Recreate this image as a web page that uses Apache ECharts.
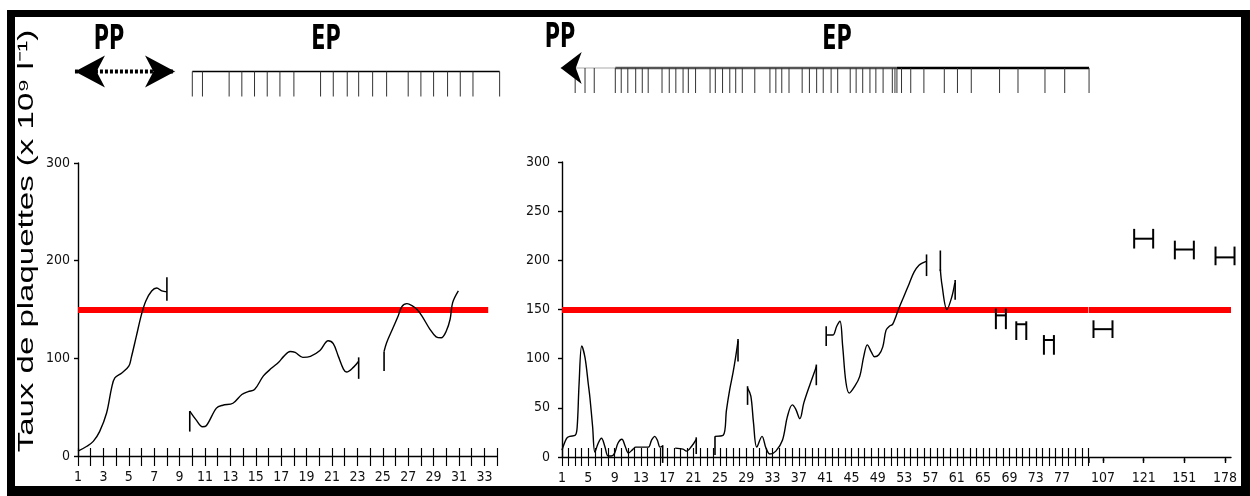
<!DOCTYPE html>
<html><head><meta charset="utf-8">
<script src="https://cdn.jsdelivr.net/npm/echarts@6/dist/echarts.min.js"></script>
<style>html,body{margin:0;padding:0;background:#fff}#c{width:1250px;height:496px}</style>
</head><body><div id="c"></div>
<script>
// ---------------- DATA ----------------
const threshold = 150;
const yTitle = 'Taux de plaquettes (x 10⁹ l⁻¹)';
const phaseLabels = ['PP', 'EP'];

// Left panel (days 1..34)
const leftSeg1 = [[1,5],[1.7,10],[2.2,15],[2.7,25],[3.25,44],[3.65,70],[3.9,80],[4.45,85],[5,92],[5.2,101],[5.6,123],[6,145],[6.35,159],[6.8,169],[7.2,172],[7.6,169],[8,168]];
const leftSeg2 = [[9.8,46],[10.3,37],[10.8,30],[11.1,31],[11.9,49],[12.4,52],[13.2,54],[13.9,63],[14.4,66],[14.9,68],[15.6,82],[16.25,90],[16.8,96],[17.2,102],[17.7,107],[18.1,106],[18.7,101],[19.3,102],[20.05,108],[20.7,118],[21.1,115],[21.5,102],[21.9,89],[22.15,86],[22.7,91],[23.1,97]];
const leftSeg3 = [[25.1,107],[25.3,116],[25.8,131],[26.2,143],[26.5,153],[26.9,156],[27.3,154],[27.7,150],[28.1,143],[28.7,130],[29.2,122],[29.6,121],[30,128],[30.3,140],[30.5,157],[30.95,169]];
const leftRanges = [[8,159,183],[9.8,25,46],[23.1,79,101],[25.1,87,107]]; // [day, low, high]
const leftThresholdSpan = [1, 33.3];
const ppLeft = [0.76, 8.64];
const epLeftLine = [10, 34.2];
const epLeftTicks = [10,10.8,12.9,13.9,14.9,15.9,16.9,18,20.1,21.1,22.2,23.1,24.2,25.3,27,28,29,30.1,31.1,32.1,34.2];

// Right panel (days 1..81, then later days)
const rightSeg1 = [[1,7],[1.7,19],[2.2,21],[3,22],[3.3,30],[3.6,75],[4,113],[4.5,101],[5,74],[5.25,60],[5.65,31],[6,5],[6.5,14],[7,19],[7.5,11],[8,1],[8.5,1],[9,4],[9.5,14],[10.1,18],[10.6,11],[11.1,4],[11.8,8],[12.2,10],[14.1,10],[14.6,17],[15.1,21],[15.5,17],[15.9,10],[16.3,11]];
const rightSeg2 = [[18.2,9],[19.4,8],[19.9,6],[20.7,11],[21.4,18]];
const rightSeg3 = [[24.25,21],[25.5,22],[26,48],[26.5,69],[27,86],[27.4,102],[27.75,118]];
const rightSeg4 = [[29.2,70],[29.7,62],[30.1,35],[30.6,10],[31.4,21],[32,9],[32.6,3],[33.5,6],[34.5,17],[35.25,41],[36,53],[36.5,49],[37.15,39],[37.75,55],[38.75,75],[39.5,89],[39.65,92]];
const rightSeg5 = [[41.15,124],[42.15,124],[42.75,133],[43.25,138],[43.65,113],[44.15,76],[44.65,65],[45.5,72],[46.25,82],[46.85,102],[47.4,114],[48,107],[48.5,102],[49.15,104],[49.75,112],[50.25,129],[50.75,133],[51.25,135],[51.75,143],[52.25,152],[53,164],[53.75,176],[54.5,188],[55.25,195],[56,198],[56.4,199]];
const rightSeg6 = [[58.5,191],[58.75,175],[59.5,150],[60.25,163],[60.7,177]];
const rightRanges = [[16.3,-6,12],[21.4,3,20],[24.25,2,21],[27.75,97,120],[29.2,53,72],[39.65,73,94],[41.15,113,133],[56.4,184,206],[58.5,189,210],[60.75,160,180]];
const hMarksMain = [[67.7,144,130,151],[70.8,135,119,138],[75,119,104,124]]; // [day, value, low, high]
const laterLabels = ['107','121','151','178'];
const hMarksLater = [[0,130,121,139],[1,222,212,232],[2,211,201,220],[3,203,195,214]]; // [label index, value, low, high]
const ppRightTip = 0.8;
const epRightLine = [0.8, 9.1, 51.9, 81.1]; // breakpoints of the top line
const epRightTicks = [3,4.5,5.9,9.1,10,11,12.2,13.2,14.1,16.2,17.3,18.3,19.4,20.2,21.3,23.5,24.3,25.4,26.5,27.4,28.4,30.3,32.6,33.5,34.4,35.5,37.5,38.6,39.7,40.7,41.9,42.9,44.8,45.7,46.7,47.8,48.7,49.8,51.2,51.6,51.9,52.6,54,56,59.1,61.1,63.2,67.5,70.3,74.4,77.4,81.1];

// ---------------- CHART ----------------
const FONT = "'Liberation Sans Narrow','DejaVu Sans Condensed','Liberation Sans',sans-serif";
const chart = echarts.init(document.getElementById('c'), null, {renderer: 'canvas'});

const lblStyle = {fontFamily: FONT, fontSize: 14, color: '#111'};
const axLine = {show: true, lineStyle: {color: '#000', width: 1.4}};

function lineSeries(data, xi, yi, extra) {
  return Object.assign({
    type: 'line', data: data, xAxisIndex: xi, yAxisIndex: yi, smooth: 0.35,
    symbol: 'none', lineStyle: {color: '#000', width: 1.4}, silent: true, z: 3
  }, extra || {});
}
function rangeSeries(data, xi, yi) {
  return {
    type: 'custom', xAxisIndex: xi, yAxisIndex: yi, data: data, clip: false, silent: true, z: 4,
    encode: {x: 0, y: [1, 2]},
    renderItem: function (p, api) {
      const a = api.coord([api.value(0), api.value(1)]);
      const b = api.coord([api.value(0), api.value(2)]);
      return {type: 'line', shape: {x1: a[0], y1: a[1], x2: b[0], y2: b[1]}, style: {stroke: '#000', lineWidth: 1.6}};
    }
  };
}
function hSeries(data, xi, yi, hw) {
  return {
    type: 'custom', xAxisIndex: xi, yAxisIndex: yi, data: data, clip: false, silent: true, z: 4,
    encode: {x: 0, y: [1, 2, 3]},
    renderItem: function (p, api) {
      const c = api.coord([api.value(0), api.value(1)]);
      const lo = api.coord([api.value(0), api.value(2)]);
      const hi = api.coord([api.value(0), api.value(3)]);
      const st = {stroke: '#000', lineWidth: 2};
      return {type: 'group', children: [
        {type: 'line', shape: {x1: c[0]-hw, y1: lo[1], x2: c[0]-hw, y2: hi[1]}, style: st},
        {type: 'line', shape: {x1: c[0]+hw, y1: lo[1], x2: c[0]+hw, y2: hi[1]}, style: st},
        {type: 'line', shape: {x1: c[0]-hw, y1: c[1], x2: c[0]+hw, y2: c[1]}, style: st}
      ]};
    }
  };
}
function tickSeries(days, xi, yi) {
  return {
    type: 'custom', xAxisIndex: xi, yAxisIndex: yi, data: days.map(d => [d, 1]), clip: false, silent: true,
    encode: {x: 0, y: 1},
    renderItem: function (p, api) {
      const a = api.coord([api.value(0), 1]);
      const b = api.coord([api.value(0), 0]);
      return {type: 'line', shape: {x1: a[0], y1: a[1], x2: b[0], y2: b[1]}, style: {stroke: '#333', lineWidth: 1}};
    }
  };
}
function segLineSeries(points, styles, xi, yi) {
  const data = [];
  for (let i = 0; i < points.length - 1; i++) data.push([points[i], points[i+1], i]);
  return {
    type: 'custom', xAxisIndex: xi, yAxisIndex: yi, data: data, clip: false, silent: true,
    encode: {x: [0, 1]},
    renderItem: function (p, api) {
      const a = api.coord([api.value(0), 1]);
      const b = api.coord([api.value(1), 1]);
      const s = styles[api.value(2)];
      return {type: 'line', shape: {x1: a[0], y1: a[1], x2: b[0], y2: b[1]}, style: {stroke: s.c, lineWidth: s.w, lineDash: s.dash || null}};
    }
  };
}
function arrowSeries(tips, xi, yi, L, H) {
  return {
    type: 'custom', xAxisIndex: xi, yAxisIndex: yi, data: tips, clip: false, silent: true, z: 5,
    encode: {x: 0},
    renderItem: function (p, api) {
      const t = api.coord([api.value(0), 1]);
      const dir = api.value(1); // -1 points left, +1 points right
      const s = -dir;
      return {type: 'polygon', shape: {points: [
        [t[0], t[1]], [t[0] + s*L, t[1] - H], [t[0] + s*L*0.72, t[1]], [t[0] + s*L, t[1] + H]
      ]}, style: {fill: '#000'}};
    }
  };
}
function textEl(txt, x, y) {
  return {type: 'text', x: x, y: y, scaleX: 0.7, style: {text: txt, fontFamily: FONT, fontWeight: 'bold', fontSize: 33, fill: '#000', textAlign: 'center', textVerticalAlign: 'middle'}};
}
const innerTickAxis = (g, min, max, len, custom) => ({
  gridIndex: g, type: 'value', position: 'bottom', min: min, max: max, interval: custom ? undefined : 1,
  offset: custom ? 6 : 0, axisLine: {show: false},
  axisTick: Object.assign({inside: true, length: len, lineStyle: {color: '#000', width: custom ? 1.4 : 1.15}}, custom ? {customValues: custom} : {}),
  splitLine: {show: false}, axisLabel: {show: false}
});

const option = {
  animation: false,
  backgroundColor: '#fff',
  grid: [
    {left: 78, top: 163, width: 419.1, height: 293},      // 0 left main
    {left: 562, top: 162, width: 526.4, height: 295},     // 1 right main
    {left: 1089, top: 162, width: 142, height: 295},      // 2 right later days
    {left: 78, top: 71.5, width: 419.1, height: 25},      // 3 top-left timeline
    {left: 562, top: 68, width: 526.4, height: 25}        // 4 top-right timeline
  ],
  xAxis: [
    {gridIndex: 0, type: 'value', position: 'bottom', min: 1, max: 34, interval: 1, axisLine: axLine,
     axisTick: {length: 10, lineStyle: {color: '#000', width: 1.15}}, splitLine: {show: false},
     axisLabel: Object.assign({margin: 14, formatter: v => (v % 2 === 1 && v <= 33) ? String(v) : ''}, lblStyle)},
    innerTickAxis(0, 1, 34, 8),
    {gridIndex: 1, type: 'value', position: 'bottom', min: 1, max: 81, interval: 1, axisLine: axLine,
     axisTick: {length: 9, lineStyle: {color: '#000', width: 1.1}}, splitLine: {show: false},
     axisLabel: Object.assign({margin: 14, formatter: v => ((v - 1) % 4 === 0 && v <= 77) ? String(v) : ''}, lblStyle)},
    innerTickAxis(1, 1, 81, 9),
    {gridIndex: 2, type: 'value', position: 'bottom', min: -0.344, max: 3.147, offset: 6, axisLine: axLine,
     axisTick: {length: 4, customValues: [0,1,2,3], lineStyle: {color: '#000', width: 1.4}}, splitLine: {show: false},
     axisLabel: Object.assign({margin: 8, customValues: [0,1,2,3], formatter: v => laterLabels[Math.round(v)] || ''}, lblStyle)},
    {gridIndex: 3, type: 'value', min: 1, max: 34, show: false},
    {gridIndex: 4, type: 'value', min: 1, max: 81, show: false},
    innerTickAxis(2, -0.344, 3.147, 4, [0,1,2,3])
  ],
  yAxis: [
    {gridIndex: 0, type: 'value', min: 0, max: 300, interval: 100, axisLine: axLine,
     axisTick: {show: true, length: 4, lineStyle: {color: '#000', width: 1.4}}, splitLine: {show: false},
     axisLabel: Object.assign({margin: 8}, lblStyle)},
    {gridIndex: 1, type: 'value', min: 0, max: 300, interval: 50, axisLine: axLine,
     axisTick: {show: true, length: 4, lineStyle: {color: '#000', width: 1.4}}, splitLine: {show: false},
     axisLabel: Object.assign({margin: 12}, lblStyle)},
    {gridIndex: 2, type: 'value', min: 0, max: 300, show: false},
    {gridIndex: 3, type: 'value', min: 0, max: 1, show: false},
    {gridIndex: 4, type: 'value', min: 0, max: 1, show: false}
  ],
  series: [
    lineSeries(leftSeg1, 0, 0, {markLine: {symbol: 'none', silent: true, label: {show: false}, z: 2,
      lineStyle: {color: '#ff0000', width: 6, type: 'solid'},
      data: [[{coord: [leftThresholdSpan[0], threshold]}, {coord: [leftThresholdSpan[1], threshold]}]]}}),
    lineSeries(leftSeg2, 0, 0),
    lineSeries(leftSeg3, 0, 0),
    rangeSeries(leftRanges, 0, 0),
    lineSeries(rightSeg1, 2, 1, {markLine: {symbol: 'none', silent: true, label: {show: false}, z: 2,
      lineStyle: {color: '#ff0000', width: 6, type: 'solid'},
      data: [[{coord: [1, threshold]}, {coord: [81, threshold]}]]}}),
    lineSeries(rightSeg2, 2, 1),
    lineSeries(rightSeg3, 2, 1),
    lineSeries(rightSeg4, 2, 1),
    lineSeries(rightSeg5, 2, 1),
    lineSeries(rightSeg6, 2, 1),
    rangeSeries(rightRanges, 2, 1),
    hSeries(hMarksMain, 2, 1, 5),
    Object.assign(hSeries(hMarksLater, 4, 2, 9.5), {markLine: {symbol: 'none', silent: true, label: {show: false},
      lineStyle: {color: '#ff0000', width: 6, type: 'solid'}, data: [{yAxis: threshold}]}}),
    // top-left timeline
    segLineSeries(ppLeft, [{c: '#000', w: 4, dash: [3, 2]}], 5, 3),
    arrowSeries([[ppLeft[0], -1], [ppLeft[1], 1]], 5, 3, 30, 16),
    segLineSeries(epLeftLine, [{c: '#000', w: 1.5}], 5, 3),
    tickSeries(epLeftTicks, 5, 3),
    // top-right timeline
    segLineSeries(epRightLine, [{c: '#aaa', w: 1.2}, {c: '#555', w: 2.5}, {c: '#000', w: 2.5}], 6, 4),
    arrowSeries([[ppRightTip, -1]], 6, 4, 21, 16),
    tickSeries(epRightTicks, 6, 4)
  ],
  graphic: [
    // frame
    {type: 'rect', shape: {x: 7, y: 10, width: 1243, height: 7}, style: {fill: '#000'}, silent: true},
    {type: 'rect', shape: {x: 7, y: 10, width: 8, height: 486}, style: {fill: '#000'}, silent: true},
    {type: 'rect', shape: {x: 7, y: 486, width: 1243, height: 10}, style: {fill: '#000'}, silent: true},
    {type: 'rect', shape: {x: 1241, y: 10, width: 9, height: 486}, style: {fill: '#000'}, silent: true},
    {type: 'line', shape: {x1: 1089, y1: 457, x2: 1089, y2: 463}, style: {stroke: '#000', lineWidth: 1.4}, silent: true},
    textEl(phaseLabels[0], 109, 40),
    textEl(phaseLabels[1], 326, 40),
    textEl(phaseLabels[0], 560, 38),
    textEl(phaseLabels[1], 837, 40),
    {type: 'text', x: 27, y: 241, rotation: Math.PI / 2, scaleX: 1.5, silent: true,
     style: {text: yTitle, fontFamily: "'Liberation Sans',Arial,sans-serif", fontSize: 22, fill: '#000', textAlign: 'center', textVerticalAlign: 'middle'}}
  ]
};
chart.setOption(option);
</script>
</body></html>
